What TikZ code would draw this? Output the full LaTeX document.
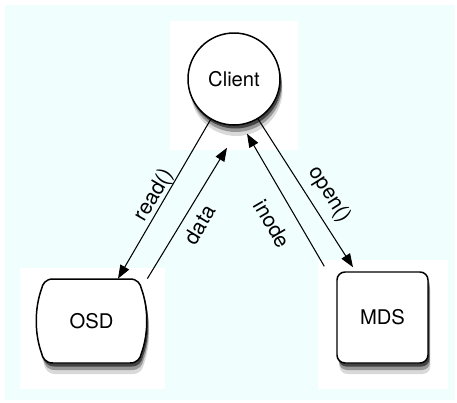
\documentclass[tikz,border=0pt]{standalone}
\usepackage{xcolor}
\usepackage{fontspec}
\setmainfont{TeX Gyre Heros}
\usepackage{tikz}
\usetikzlibrary{arrows.meta, positioning, shadows}
\definecolor{paleaqua}{RGB}{240,254,254}

\begin{document}
\begin{tikzpicture}
    \tikzstyle{soft} = [drop shadow={shadow xshift=0.05cm, shadow yshift=-0.22cm, fill=black, opacity=0.15}, drop shadow={shadow xshift=0.04cm, shadow yshift=-0.14cm, fill=black, opacity=0.3}, drop shadow={shadow xshift=0.03cm, shadow yshift=-0.07cm, fill=black, opacity=0.55}]
    \tikzstyle{panel} = [fill=white, draw=none]
    \tikzstyle{client} = [circle, draw=black, fill=white, line width=0.85pt, minimum size=1.84cm, soft, font=\fontsize{11.5}{13}\selectfont]
    \tikzstyle{store} = [rectangle, draw=black, fill=white, line width=0.85pt, rounded corners=0.16cm, minimum width=1.82cm, minimum height=1.82cm, soft, font=\fontsize{11.5}{13}\selectfont]
    \tikzstyle{barrel} = [draw=black, fill=white, line width=0.85pt, soft]
    \tikzstyle{barreltext} = [rectangle, minimum width=2.22cm, minimum height=1.68cm, font=\fontsize{11.5}{13}\selectfont]
    \tikzstyle{link} = [-{Triangle[length=0.27cm, width=0.2cm]}, line width=0.6pt]
    \tikzstyle{tag} = [inner sep=0pt, font=\fontsize{12}{14}\selectfont]

    \useasboundingbox (0,0) rectangle (9.14,8.04);
    \fill[paleaqua] (0.1,0.04) rectangle (9.1,7.94);
    \fill[panel] (3.4,5.04) rectangle (5.96,7.62);
    \fill[panel] (0.4,0.26) rectangle (3.3,2.68);
    \fill[panel] (6.36,0.26) rectangle (8.96,2.84);

    \coordinate (osdpos) at (1.83,1.62);
    \draw[barrel, shift={(osdpos)}] (-0.77,0.84) -- (0.77,0.84)
        .. controls (0.92,0.84) and (0.98,0.74) .. (1.0,0.64)
        .. controls (1.14,0.25) and (1.14,-0.25) .. (1.0,-0.64)
        .. controls (0.98,-0.74) and (0.92,-0.84) .. (0.77,-0.84)
        -- (-0.77,-0.84)
        .. controls (-0.92,-0.84) and (-0.98,-0.74) .. (-1.0,-0.64)
        .. controls (-1.14,-0.25) and (-1.14,0.25) .. (-1.0,0.64)
        .. controls (-0.98,0.74) and (-0.92,0.84) .. cycle;

    \node (client) [client] at (4.68,6.46) {Client};
    \node (osd) [barreltext] at (osdpos) {OSD};
    \node (mds) [store] at (7.65,1.69) {MDS};

    \draw[link] (client.240) -- node[pos=.51, sloped, above=0pt, tag] {read()} ([xshift=0.53cm]osd.north);
    \draw[link] (osd.north east) -- node[pos=.48, sloped, below=0.17cm, tag] {data} ([xshift=-0.14cm, yshift=-0.44cm]client.south);
    \draw[link] ([xshift=-0.24cm, yshift=0.1cm]mds.north west) -- node[pos=.41, sloped, below=0.3cm, tag] {inode} ([xshift=0.26cm, yshift=-0.16cm]client.south);
    \draw[link] (client.301) -- node[pos=.58, sloped, above=0.18cm, tag] {open()} ([xshift=-0.59cm, yshift=0.08cm]mds.north);
\end{tikzpicture}
\end{document}
